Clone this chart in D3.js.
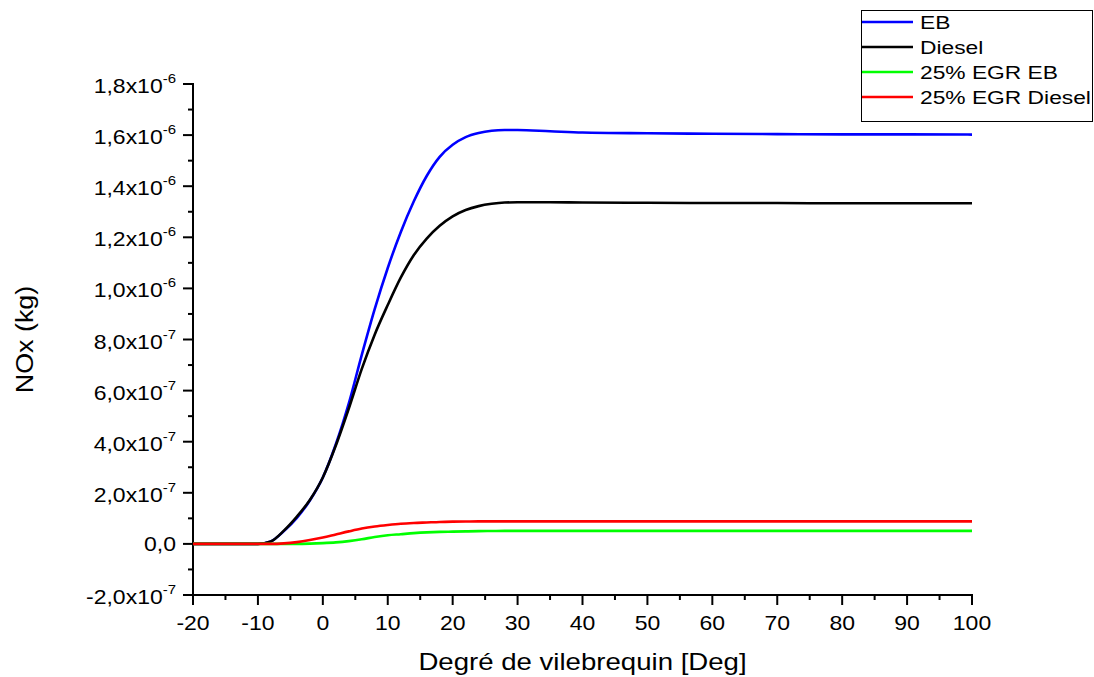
<!DOCTYPE html>
<html>
<head>
<meta charset="utf-8">
<script src="https://cdn.jsdelivr.net/npm/d3@7"></script>
<style>
  html, body { margin: 0; padding: 0; background: #fff; }
  svg { display: block; font-family: "Liberation Sans", Arial, sans-serif; }
</style>
</head>
<body>
<svg id="chart" width="1094" height="677"></svg>
<script>
// ---- data (values in kg) ----
const degrees = [-20,-15,-10,-8,-6,-4,-2,0,2,4,6,8,10,12,14,16,18,20,22,24,26,28,30,35,40,50,60,70,80,90,100];
const ebValues = [0,0,0,0.1,0.5,1.02,1.7,2.6,3.9,5.5,7.4,9.2,10.8,12.2,13.4,14.4,15.15,15.62,15.92,16.08,16.17,16.2,16.2,16.15,16.1,16.07,16.05,16.04,16.03,16.03,16.02].map(v => v * 1e-7);
const dieselValues = [0,0,0,0.1,0.52,1.07,1.72,2.6,3.85,5.3,6.85,8.2,9.35,10.42,11.3,11.95,12.45,12.82,13.07,13.22,13.31,13.36,13.37,13.37,13.36,13.35,13.34,13.34,13.33,13.33,13.33].map(v => v * 1e-7);
const egrEbValues = [0,0,0,0,0,0,0.01,0.03,0.06,0.11,0.18,0.27,0.34,0.38,0.42,0.45,0.47,0.48,0.49,0.50,0.505,0.51,0.51,0.51,0.51,0.51,0.51,0.51,0.51,0.51,0.51].map(v => v * 1e-7);
const egrDieselValues = [0,0,0,0,0.02,0.07,0.15,0.25,0.37,0.49,0.6,0.68,0.74,0.79,0.82,0.84,0.86,0.87,0.875,0.88,0.88,0.88,0.88,0.88,0.88,0.88,0.88,0.88,0.88,0.88,0.88].map(v => v * 1e-7);

const seriesNames = ["EB", "Diesel", "25% EGR EB", "25% EGR Diesel"];
const seriesColors = ["#0000ff", "#000000", "#00ff00", "#ff0000"];
const seriesData = [ebValues, dieselValues, egrEbValues, egrDieselValues];

const xTicks = [-20,-10,0,10,20,30,40,50,60,70,80,90,100];
const xMinorTicks = [-15,-5,5,15,25,35,45,55,65,75,85,95];
const yTicks = [-2e-7,0,2e-7,4e-7,6e-7,8e-7,1e-6,1.2e-6,1.4e-6,1.6e-6,1.8e-6];
const yMinorTicks = [-1e-7,1e-7,3e-7,5e-7,7e-7,9e-7,1.1e-6,1.3e-6,1.5e-6,1.7e-6];
const xTitle = "Degré de vilebrequin [Deg]";
const yTitle = "NOx (kg)";

// ---- layout ----
const svg = d3.select("#chart");
const x = d3.scaleLinear().domain([-20, 100]).range([193, 972]);
const y = d3.scaleLinear().domain([-2e-7, 1.8e-6]).range([595, 84]);
const SX = 1.15; // horizontal stretch of glyphs

function fmtY(v) {
  if (Math.abs(v) < 1e-15) return { m: "0,0", e: null };
  const s = v.toExponential(1);
  const [m, e] = s.split("e");
  return { m: m.replace(".", ",") + "x10", e: String(parseInt(e, 10)) };
}

// ---- axes ----
const g = svg.append("g");
// x axis
g.append("line").attr("x1", x(-20)).attr("x2", x(100)).attr("y1", y(-2e-7)).attr("y2", y(-2e-7))
  .attr("stroke", "#000").attr("stroke-width", 2).attr("stroke-linecap", "square");
g.selectAll(".xt").data(xTicks).join("line")
  .attr("x1", d => x(d)).attr("x2", d => x(d)).attr("y1", y(-2e-7)).attr("y2", y(-2e-7) + 10)
  .attr("stroke", "#000").attr("stroke-width", 2);
g.selectAll(".xmt").data(xMinorTicks).join("line")
  .attr("x1", d => x(d)).attr("x2", d => x(d)).attr("y1", y(-2e-7)).attr("y2", y(-2e-7) + 5)
  .attr("stroke", "#000").attr("stroke-width", 2);
g.selectAll(".xl").data(xTicks).join("text")
  .attr("transform", d => `translate(${x(d)},${y(-2e-7) + 35}) scale(${SX},1)`)
  .attr("text-anchor", "middle").attr("font-size", 20).attr("fill", "#000")
  .text(d => String(d));

// y axis
g.append("line").attr("x1", x(-20)).attr("x2", x(-20)).attr("y1", y(-2e-7)).attr("y2", y(1.8e-6))
  .attr("stroke", "#000").attr("stroke-width", 2).attr("stroke-linecap", "square");
g.selectAll(".yt").data(yTicks).join("line")
  .attr("x1", x(-20) - 10).attr("x2", x(-20)).attr("y1", d => y(d)).attr("y2", d => y(d))
  .attr("stroke", "#000").attr("stroke-width", 2);
g.selectAll(".ymt").data(yMinorTicks).join("line")
  .attr("x1", x(-20) - 5).attr("x2", x(-20)).attr("y1", d => y(d)).attr("y2", d => y(d))
  .attr("stroke", "#000").attr("stroke-width", 2);
const yl = g.selectAll(".yl").data(yTicks).join("text")
  .attr("transform", d => `translate(${x(-20) - 17},${y(d) + (fmtY(d).e ? 9 : 7)}) scale(${SX},1)`)
  .attr("text-anchor", "end").attr("font-size", 20).attr("fill", "#000");
yl.each(function(d) {
  const f = fmtY(d);
  const t = d3.select(this);
  t.append("tspan").text(f.m);
  if (f.e) t.append("tspan").attr("font-size", 13).attr("dy", -10).text(f.e);
});

// axis titles
svg.append("text")
  .attr("transform", `translate(${x(40)},670) scale(1.2,1)`)
  .attr("text-anchor", "middle").attr("font-size", 23).attr("fill", "#000")
  .text(xTitle);
svg.append("text")
  .attr("transform", `translate(33,${y(8e-7)}) rotate(-90) scale(1.17,1)`)
  .attr("text-anchor", "middle").attr("font-size", 23).attr("fill", "#000")
  .text(yTitle);

// ---- lines ----
const line = d3.line().x(d => x(d[0])).y(d => y(d[1])).curve(d3.curveMonotoneX);
seriesData.forEach((vals, i) => {
  svg.append("path")
    .datum(degrees.map((dg, k) => [dg, vals[k]]))
    .attr("d", line)
    .attr("fill", "none")
    .attr("stroke", seriesColors[i])
    .attr("stroke-width", 2.6)
    .attr("stroke-linejoin", "round");
});

// ---- legend ----
const lg = svg.append("g");
lg.append("rect").attr("x", 861.5).attr("y", 10.5).attr("width", 231).attr("height", 111)
  .attr("fill", "#fff").attr("stroke", "#000").attr("stroke-width", 1);
const rowY = d3.scalePoint().domain(seriesNames).range([22, 97]);
seriesNames.forEach((name, i) => {
  lg.append("line").attr("x1", 862).attr("x2", 913).attr("y1", rowY(name)).attr("y2", rowY(name))
    .attr("stroke", seriesColors[i]).attr("stroke-width", 2.6);
  lg.append("text")
    .attr("transform", `translate(920,${rowY(name) + 7}) scale(1.2,1)`)
    .attr("font-size", 19).attr("fill", "#000").text(name);
});
</script>
</body>
</html>
